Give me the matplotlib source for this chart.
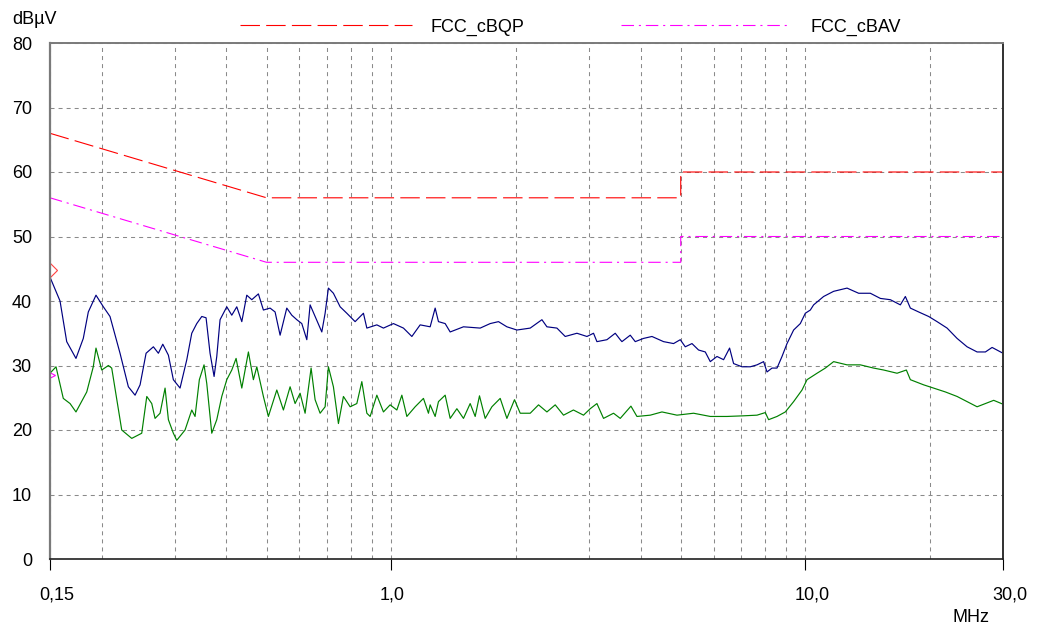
import matplotlib
matplotlib.use("Agg")
import matplotlib.pyplot as plt
from matplotlib.lines import Line2D
from matplotlib.ticker import FixedLocator, NullFormatter

plt.rcParams['font.family'] = ['Liberation Sans', 'DejaVu Sans']
plt.rcParams['lines.scale_dashes'] = False

# ---------------- data ----------------
blue_f = [0.150, 0.1586, 0.1646, 0.1733, 0.1805, 0.1856, 0.1937, 0.2018, 0.2094, 0.2214, 0.2319, 0.2407,
          0.2475, 0.2559, 0.2665, 0.2740, 0.2808, 0.2897, 0.2978, 0.3091, 0.3209, 0.3299, 0.3392, 0.3488,
          0.3572, 0.3652, 0.3735, 0.3791, 0.3861, 0.4008, 0.4121, 0.4237,
          0.4357, 0.4479, 0.4606, 0.4778, 0.4913, 0.5099, 0.5243, 0.5391, 0.5595, 0.5753, 0.5916, 0.6082,
          0.6254, 0.6370, 0.6549, 0.6798, 0.6924, 0.7052, 0.7251, 0.7527, 0.7812, 0.8181, 0.8568, 0.8732,
          0.9231, 0.9576, 1.0124, 1.0703, 1.1215, 1.1744, 1.2416,
          1.2766, 1.3003, 1.3496, 1.3877, 1.4943, 1.6398, 1.7336, 1.8155, 1.9023, 2.0112, 2.1656, 2.3112,
          2.3763, 2.5122, 2.6309, 2.8077, 2.9684, 3.0792, 3.1380, 3.3176, 3.4743, 3.5723,
          3.6062, 3.7766, 3.8831, 4.0665, 4.2611, 4.5450, 4.8051, 4.9875, 5.1281, 5.3229, 5.5218, 5.7315,
          5.8932, 6.1169, 6.3456, 6.5610, 6.7086, 7.0295, 7.3616, 7.6410, 7.9268, 8.0781, 8.3058, 8.5401,
          8.7809, 9.0285, 9.3662, 9.7218, 9.9960, 10.278,
          10.468, 11.067, 11.700, 12.605, 13.446, 14.349, 15.171, 16.038, 16.955, 17.433, 17.925, 18.771,
          19.845, 20.795, 21.984, 23.241, 24.570, 25.976, 27.203, 28.236, 30.0]
blue_v = [43.7, 40.0, 33.7, 31.1, 34.2, 38.3, 40.9, 39.1, 37.6, 31.9, 26.7, 25.4,
          27.0, 31.9, 32.9, 31.9, 33.3, 31.6, 27.8, 26.5, 30.9, 35.0, 36.5, 37.6,
          37.4, 31.9, 28.3, 31.4, 37.1, 39.1, 37.8, 39.1,
          36.8, 40.9, 40.2, 41.1, 38.6, 38.9, 38.3, 34.7, 38.9, 37.8, 37.1, 36.5,
          34.0, 39.4, 37.6, 35.2, 38.1, 42.0, 41.2, 39.1, 38.1, 36.8, 38.1, 35.8,
          36.3, 35.8, 36.5, 35.8, 34.5, 36.3, 36.0,
          38.9, 36.8, 36.5, 35.2, 36.0, 35.8, 36.5, 36.8, 36.0, 35.5, 35.8, 37.1,
          36.0, 35.8, 34.5, 35.0, 34.5, 35.0, 33.7, 34.0, 35.0, 34.0,
          33.7, 34.7, 33.7, 34.2, 34.5, 33.7, 33.4, 34.0, 32.9, 33.4, 32.4, 32.1,
          30.6, 31.4, 30.9, 32.7, 30.3, 29.8, 29.8, 30.1, 30.6, 29.0, 29.6, 29.6,
          31.4, 33.4, 35.5, 36.5, 38.1, 38.6,
          39.4, 40.7, 41.5, 42.0, 41.2, 41.2, 40.4, 40.2, 39.4, 40.7, 38.9, 38.3,
          37.6, 36.8, 35.8, 34.2, 32.9, 32.1, 32.1, 32.8, 31.9]

green_f = [0.150, 0.1551, 0.1615, 0.1677, 0.1733, 0.1840, 0.1908, 0.1937, 0.2000, 0.2075, 0.2114, 0.2235,
           0.2363, 0.2498, 0.2569, 0.2641, 0.2690, 0.2766, 0.2844, 0.2897, 0.2978, 0.3035, 0.3178, 0.3299,
           0.3360, 0.3441, 0.3532, 0.3586, 0.3687, 0.3791, 0.3898, 0.4008, 0.4121, 0.4221,
           0.4357, 0.4520, 0.4647, 0.4736, 0.4913, 0.5051, 0.5293, 0.5491, 0.5699, 0.5860, 0.6025, 0.6195,
           0.6405, 0.6549, 0.6734, 0.6924, 0.7052, 0.7251, 0.7456, 0.7666, 0.7957, 0.8259, 0.8492, 0.8732,
           0.8893, 0.9231, 0.9576, 0.9939, 1.0317, 1.0608, 1.0907, 1.1422, 1.1962, 1.2299,
           1.2416, 1.2766, 1.3003, 1.3496, 1.3877, 1.4404, 1.4943, 1.5510, 1.5948, 1.6334, 1.6860, 1.7500,
           1.8327, 1.9023, 1.9845, 2.0484, 2.1656, 2.2680, 2.3763, 2.4886, 2.6061, 2.7535, 2.9127, 3.0231,
           3.1380, 3.2553, 3.4416, 3.5723,
           3.7913, 3.9199, 4.2210, 4.5048, 4.8968, 5.3705, 5.8932, 6.4668, 7.0924, 7.6410, 8.0020, 8.1503,
           8.5401, 8.9436, 9.3662, 9.8142,
           10.091, 10.668, 11.172, 11.700, 12.605, 13.573, 14.615, 15.452, 16.645, 17.530, 17.925, 19.300,
           20.404, 21.777, 23.241, 24.570, 25.976, 27.203, 28.489, 30.0]
green_v = [28.8, 29.8, 24.9, 24.1, 22.8, 25.9, 29.8, 32.7, 29.3, 30.0, 29.6, 20.0,
           18.7, 19.5, 25.2, 24.1, 21.8, 22.6, 26.5, 21.6, 19.5, 18.4, 20.0, 23.1,
           22.1, 27.8, 30.1, 27.2, 19.5, 21.6, 25.2, 27.8, 29.3, 31.1,
           26.5, 32.1, 27.8, 29.8, 25.2, 22.1, 26.2, 23.1, 26.7, 24.1, 25.7, 22.6,
           29.6, 24.7, 22.6, 23.6, 29.8, 26.7, 21.0, 25.2, 23.6, 24.1, 27.5, 22.6,
           22.1, 25.4, 22.8, 23.9, 23.1, 25.4, 22.1, 23.6, 24.9, 22.6,
           23.9, 22.1, 24.4, 25.4, 21.8, 23.3, 21.8, 24.1, 22.1, 25.3, 21.8, 23.6,
           24.9, 21.8, 24.7, 22.6, 22.6, 23.9, 22.8, 23.9, 22.3, 23.1, 22.3, 23.3,
           24.1, 21.8, 22.6, 21.8,
           23.7, 22.1, 22.3, 22.8, 22.3, 22.6, 22.1, 22.1, 22.2, 22.3, 22.7, 21.6,
           22.1, 22.8, 24.4, 26.2,
           27.8, 28.8, 29.6, 30.6, 30.1, 30.1, 29.6, 29.3, 28.8, 29.3, 27.8, 27.0,
           26.5, 25.9, 25.2, 24.4, 23.6, 24.1, 24.6, 24.0]

limit_f = [0.15, 0.5, 5.0, 5.0, 30.0]
qp_limit = [66, 56, 56, 60, 60]
av_limit = [56, 46, 46, 50, 50]

qp_name = "FCC_cBQP"
av_name = "FCC_cBAV"

xtick_vals = [0.15, 1.0, 10.0, 30.0]
xtick_labels = ["0,15", "1,0", "10,0", "30,0"]
xgrid_minor = [0.2, 0.3, 0.4, 0.5, 0.6, 0.7, 0.8, 0.9, 2, 3, 4, 5, 6, 7, 8, 9, 20]
ytick_vals = [0, 10, 20, 30, 40, 50, 60, 70, 80]

FS = 13

# ---------------- figure ----------------
W, H = 1040, 626
fig = plt.figure(figsize=(W / 100, H / 100), dpi=100)
ax = fig.add_axes([50 / W, (H - 559) / H, 953 / W, 516 / H])
ax.set_xscale('log')
ax.set_xlim(0.15, 30)
ax.set_ylim(0, 80)

grid_kw = dict(color='#8a8a8a', linestyle=(0, (2.9, 2.9)), linewidth=0.75)
ax.set_xticks(xtick_vals)
ax.xaxis.set_major_formatter(NullFormatter())
ax.xaxis.set_minor_locator(FixedLocator(xgrid_minor))
ax.xaxis.set_minor_formatter(NullFormatter())
ax.set_yticks(ytick_vals)
ax.set_yticklabels([str(v) for v in ytick_vals])
ax.grid(True, which='both', axis='x', **grid_kw)
ax.grid(True, which='major', axis='y', **grid_kw)
ax.set_axisbelow(True)

ax.tick_params(axis='x', which='major', direction='out', length=8, width=0.8, color='black')
ax.tick_params(axis='x', which='minor', length=0)
ax.tick_params(axis='y', which='both', length=0, pad=13, labelsize=FS)

for f, lab in zip(xtick_vals, xtick_labels):
    ax.annotate(lab, xy=(f, 0), xycoords=('data', 'axes fraction'),
                xytext=(-8, -26), textcoords='offset points',
                ha='left', va='center', fontsize=FS, annotation_clip=False)

ax.spines['left'].set_color('#7a7a7a')
ax.spines['left'].set_linewidth(1.6)
ax.spines['top'].set_color('#7a7a7a')
ax.spines['top'].set_linewidth(1.4)
ax.spines['right'].set_color('#303030')
ax.spines['right'].set_linewidth(1.4)
ax.spines['bottom'].set_color('#202020')
ax.spines['bottom'].set_linewidth(1.2)

qp_style = dict(color='#ff0000', linestyle=(0, (14, 4.5)), linewidth=0.8)
av_style = dict(color='#ff00ff', linestyle=(0, (9, 3.5, 1.5, 3.5)), linewidth=0.8)

ax.plot(green_f, green_v, color='#008000', linewidth=0.85)
ax.plot(blue_f, blue_v, color='#000080', linewidth=0.85)
ax.plot(limit_f, qp_limit, **qp_style)
ax.plot(limit_f, av_limit, **av_style)

# small markers at left edge
ax.plot([0.15], [44.8], marker='D', ms=7, mfc='none', mec='#ff4040', mew=0.8, linestyle='none')
ax.plot([0.15], [28.6], marker='>', ms=7, mfc='none', mec='#ff00ff', mew=0.8, linestyle='none')

# legend-like header
yl = (H - 25) / H
fig.add_artist(Line2D([240 / W, 412 / W], [yl, yl], transform=fig.transFigure, **qp_style))
fig.add_artist(Line2D([621 / W, 788 / W], [yl, yl], transform=fig.transFigure, **av_style))
fig.text(430 / W, (H - 27) / H, qp_name, ha='left', va='center', fontsize=FS)
fig.text(811 / W, (H - 27) / H, av_name, ha='left', va='center', fontsize=FS)

fig.text(12 / W, (H - 20) / H, "dBµV", ha='left', va='center', fontsize=FS)
fig.text(952 / W, (H - 618) / H, "MHz", ha='left', va='center', fontsize=FS)

fig.savefig("out.png", dpi=100)
